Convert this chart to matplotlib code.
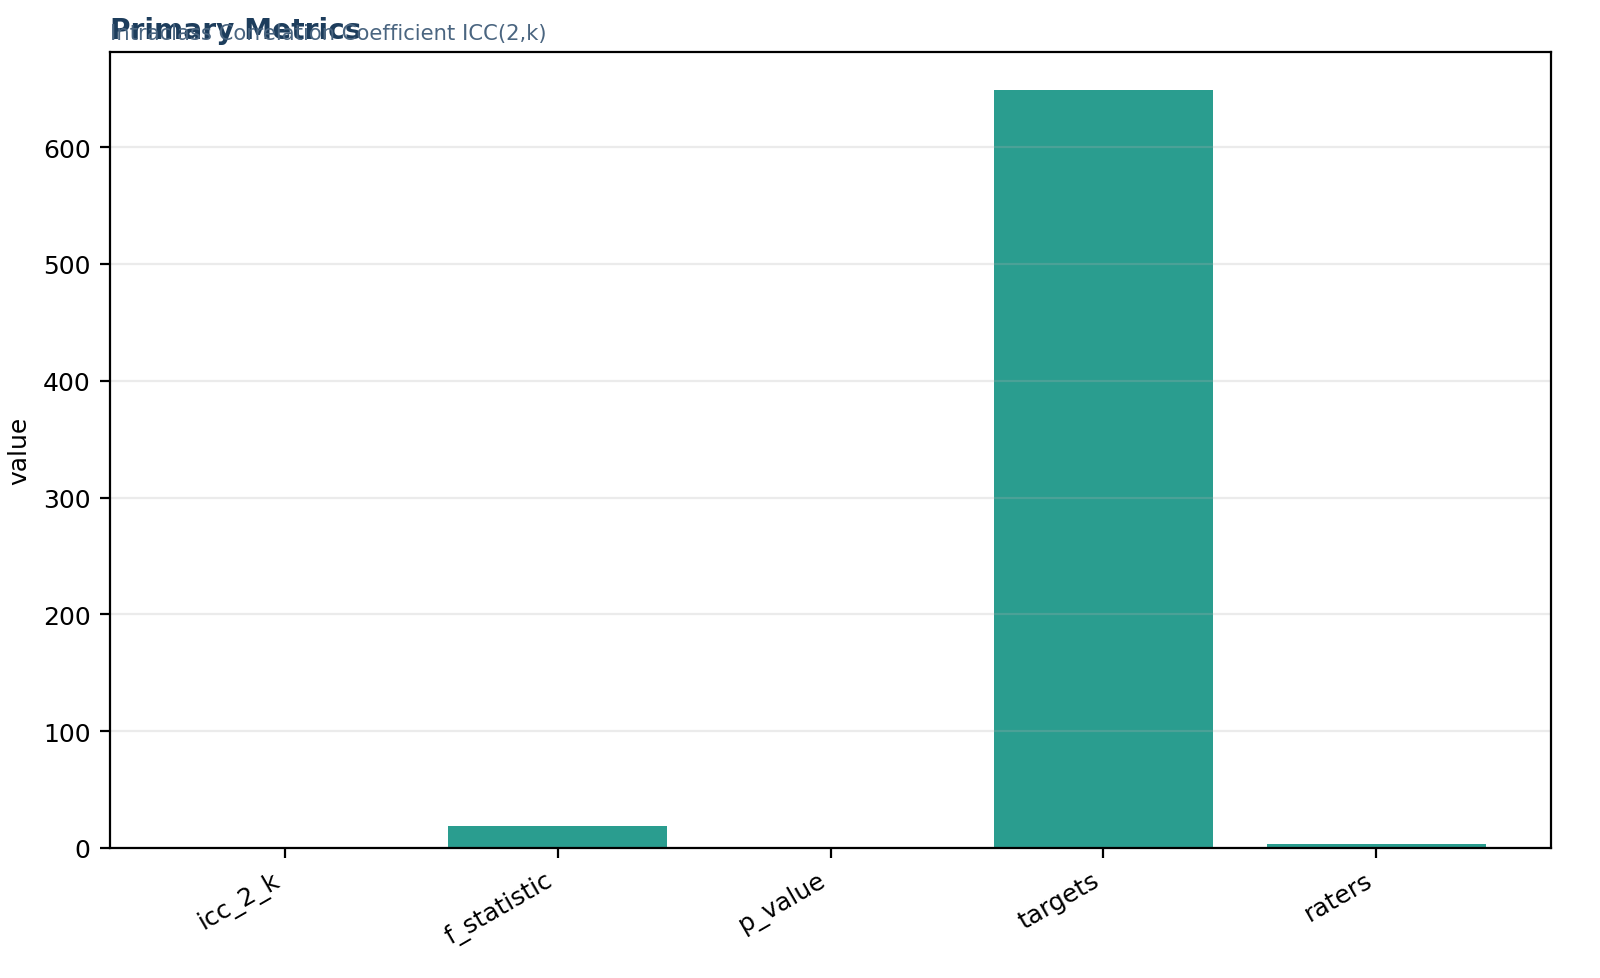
import matplotlib
matplotlib.use("Agg")
import matplotlib.pyplot as plt

categories = ["icc_2_k", "f_statistic", "p_value", "targets", "raters"]
values = [0.95, 19.0, 0.0, 649.0, 3.0]

fig = plt.figure(figsize=(8, 4.895), dpi=200)
ax = fig.add_axes([110/1600, 1-849/979, (1551-110)/1600, (849-53)/979])

ax.bar(categories, values, width=0.8, color="#2a9d8f")
ax.grid(axis="y", color="#b0b0b0", linewidth=0.8, alpha=0.25)
ax.set_ylabel("value", fontsize=9)
ax.tick_params(labelsize=9)
plt.setp(ax.get_xticklabels(), rotation=30, ha="right")

fig.text(110/1600, 1-39/979, "Primary Metrics", fontsize=10.1, fontweight="bold",
         color="#1d3d5c", ha="left", va="baseline")
fig.text(110/1600, 1-40/979, "Intraclass Correlation Coefficient ICC(2,k)", fontsize=7.6,
         color="#4a6580", ha="left", va="baseline")

fig.savefig("out.png", dpi=200)
